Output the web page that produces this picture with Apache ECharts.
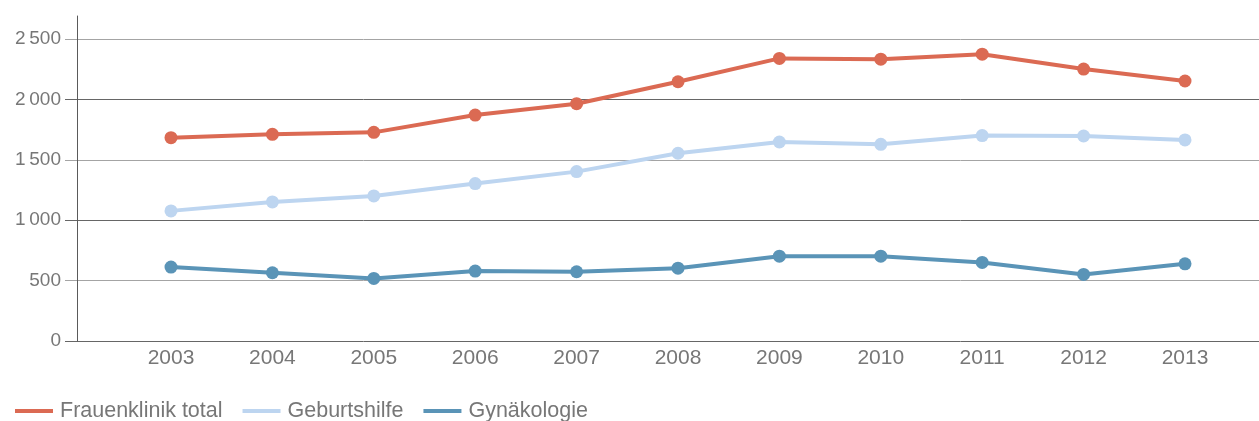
<!DOCTYPE html>
<html>
<head>
<meta charset="utf-8">
<script src="https://cdn.jsdelivr.net/npm/echarts@6/dist/echarts.min.js"></script>
<style>html,body{margin:0;padding:0;background:#fff;}#c{width:1259px;height:421px;}</style>
</head>
<body>
<div id="c"></div>
<script>
const years = ['2003','2004','2005','2006','2007','2008','2009','2010','2011','2012','2013'];
const frauenklinik = [1683,1711,1727,1870,1964,2146,2339,2333,2374,2251,2152];
const geburtshilfe = [1077,1151,1201,1303,1402,1554,1647,1628,1700,1697,1664];
const gynaekologie = [612,565,518,579,573,603,702,702,650,551,639];
const seriesNames = ['Frauenklinik total','Geburtshilfe','Gynäkologie'];
const seriesColors = ['#db6a53','#bdd5f0','#5a94b7'];
const yTickValues = [0,500,1000,1500,2000,2500];
const yTickLabels = ['0','500','1\u2009000','1\u2009500','2\u2009000','2\u2009500'];

const font = 'Liberation Sans, Arial, sans-serif';
const chart = echarts.init(document.getElementById('c'), null, {renderer:'canvas'});
const yMax = 2690;
const dataSets = [frauenklinik, geburtshilfe, gynaekologie];

chart.setOption({
  animation: false,
  backgroundColor: '#fff',
  grid: [
    {left: 65, right: 0, top: 16, bottom: 80},
    {left: 171, right: 74, top: 16, bottom: 80}
  ],
  legend: {
    left: 15, top: 400, padding: 0, itemGap: 20,
    itemWidth: 38, itemHeight: 4, icon: 'rect',
    textStyle: {color: '#777', fontSize: 21.5, fontFamily: font, padding: [0,0,0,2]},
    data: seriesNames.map((n,i)=>({name:n, itemStyle:{color:seriesColors[i]}}))
  },
  xAxis: [
    {gridIndex: 0, type: 'value', show: false, min: 0, max: 1},
    {gridIndex: 1, type: 'category', data: years, boundaryGap: false,
     axisLine: {show: false}, axisTick: {show: false}, splitLine: {show: false},
     axisLabel: {color: '#777', fontSize: 21, fontFamily: font, margin: 7}}
  ],
  yAxis: [
    {gridIndex: 0, type: 'value', min: 0, max: yMax, interval: 500, offset: -12,
     axisLine: {show: true, lineStyle: {color: '#5a5a5a', width: 1}},
     axisTick: {show: false},
     axisLabel: {color: '#777', fontSize: 19, fontFamily: font, margin: 16, showMaxLabel: false,
       padding: [0,0,12,0],
       formatter: function(v){ const i = yTickValues.indexOf(v); return i >= 0 ? yTickLabels[i] : ''; }},
     splitLine: {show: true, showMaxLine: false, lineStyle: {color: ['#666','#a4a4a4'], width: 1}}
    },
    {gridIndex: 1, type: 'value', min: 0, max: yMax, show: false, splitLine: {show: false}}
  ],
  series: dataSets.map((d,i)=>({
    name: seriesNames[i], type: 'line', xAxisIndex: 1, yAxisIndex: 1,
    data: d, symbol: 'circle', symbolSize: 13, showSymbol: true,
    lineStyle: {color: seriesColors[i], width: 4},
    itemStyle: {color: seriesColors[i]},
    z: 3 + (2 - i)
  }))
});
</script>
</body>
</html>
